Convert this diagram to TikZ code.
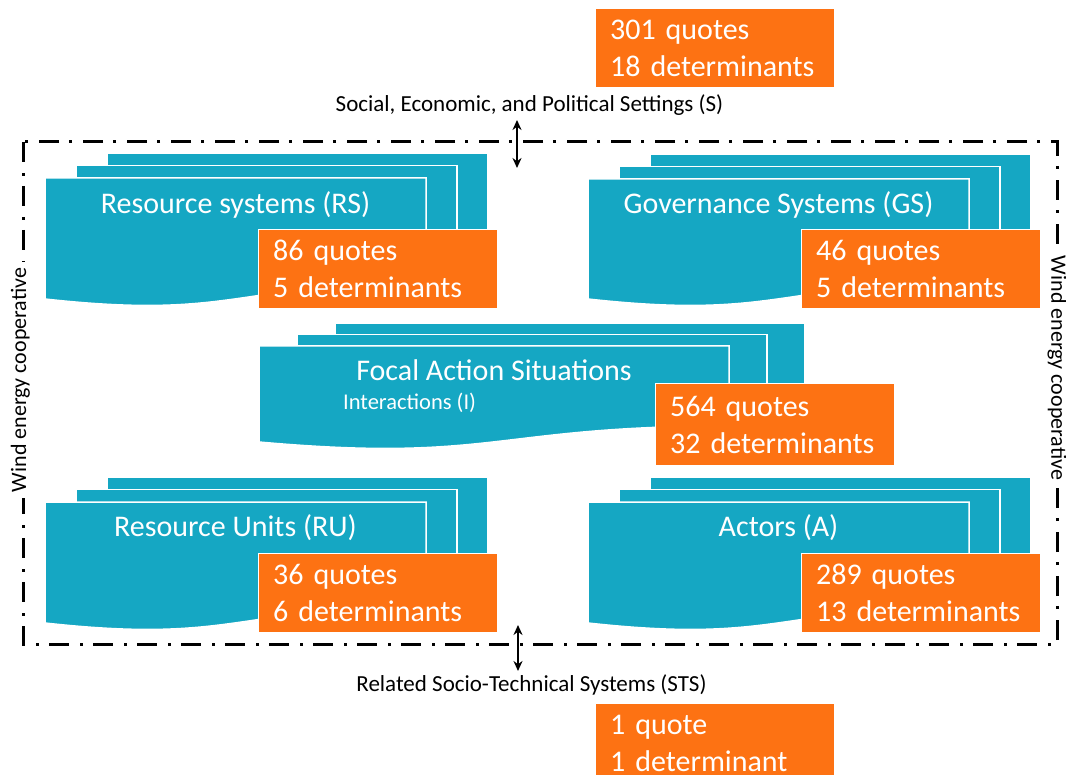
\documentclass[tikz,border=0pt]{standalone}
\usepackage{fontspec}
\setmainfont{Carlito}
\usetikzlibrary{arrows.meta}

\definecolor{sesteal}{RGB}{21,167,195}
\definecolor{sesorange}{RGB}{253,114,19}

\tikzset{
  sheet/.style={fill=sesteal, draw=white, line width=1.5pt},
  countbox/.style={fill=sesorange, draw=white, line width=1.2pt, text=white,
    font=\fontsize{30}{37}\selectfont, align=left, text width=210pt,
    inner xsep=14.5pt, inner ysep=0pt, minimum height=79pt, anchor=north west},
  sheettitle/.style={text=white, font=\fontsize{30}{36}\selectfont, inner sep=0pt},
  smalllabel/.style={text=black, font=\fontsize{23}{27}\selectfont, inner sep=0pt},
  sidelabel/.style={text=black, font=\fontsize{22}{26}\selectfont, fill=white,
    inner xsep=6pt, inner ysep=2pt},
  boundary/.style={draw=black, line width=3pt,
    dash pattern=on 20pt off 11pt on 3pt off 10pt},
  twoway/.style={{Stealth[length=10pt,width=9pt]}-{Stealth[length=10pt,width=9pt]},
    line width=2pt, draw=black},
}

% Stack of three sheets, the front one with a wavy lower edge.
% #1 left x, #2 top y, #3 width, #4 x step, #5 y step, #6 height at left edge
\newcommand\docstack[6]{%
  \filldraw[sheet] ({#1+2*#4},{#2-2*#5}) rectangle ({#1+#3+2*#4},{#2+#6-26});
  \filldraw[sheet] ({#1+#4},{#2-#5}) rectangle ({#1+#3+#4},{#2+#6-22});
  \filldraw[sheet] (#1,#2) -- ({#1+#3},#2) -- ({#1+#3},{#2+#6-16})
    .. controls ({#1+#3/2},{#2+#6-16}) and ({#1+#3/2},{#2+#6+21}) .. (#1,{#2+#6}) -- cycle;
}

\begin{document}
\begin{tikzpicture}[x=1pt,y=-1pt]
  \path[clip] (0,0) rectangle (1066,775);
  \fill[white] (0,0) rectangle (1066,775);

  % system boundary
  \draw[boundary] (23,142) rectangle (1057,644);

  % first-tier components
  \docstack{45}{178}{381}{31}{12.5}{121}
  \docstack{588}{179}{381}{31}{12.5}{120}
  \docstack{259}{346}{470}{38}{11.5}{96}
  \docstack{45}{502}{381}{31}{12.5}{121}
  \docstack{588}{502}{381}{31}{12.5}{121}

  \node[sheettitle] (rs) at (235.5,205) {Resource systems (RS)};
  \node[sheettitle] (gs) at (778.5,205) {Governance Systems (GS)};
  \node[sheettitle] (fas) at (494,370) {Focal Action Situations};
  \node[smalllabel, text=white, anchor=west, font=\fontsize{22.5}{27}\selectfont] (int) at (343,403) {Interactions (I)};
  \node[sheettitle] (ru) at (235.5,528) {Resource Units (RU)};
  \node[sheettitle] (ac) at (778.5,528) {Actors (A)};

  % counts
  \node[countbox] (sq) at (595,8) {301 quotes\\18 determinants};
  \node[countbox] (rsq) at (258,229) {86 quotes\\5 determinants};
  \node[countbox] (gsq) at (801,229) {46 quotes\\5 determinants};
  \node[countbox, minimum height=82pt] (fasq) at (655,383) {564 quotes\\32 determinants};
  \node[countbox] (ruq) at (258,553) {36 quotes\\6 determinants};
  \node[countbox] (acq) at (801,553) {289 quotes\\13 determinants};
  \node[countbox, minimum height=72pt] (stsq) at (595,703) {\rule{0pt}{28pt}1 quote\\1 determinant};

  % side labels on the boundary
  \node[sidelabel, rotate=90] (wl) at (20.5,380) {Wind energy cooperative};
  \node[sidelabel, rotate=-90] (wr) at (1057,368) {Wind energy cooperative};

  % external settings
  \node[smalllabel] (set) at (529.5,105) {Social, Economic, and Political Settings (S)};
  \node[smalllabel] (sts) at (531.5,685) {Related Socio-Technical Systems (STS)};

  \coordinate (sa) at (517,120);
  \coordinate (sb) at (517,168);
  \draw[twoway] (sa) -- (sb);
  \coordinate (ta) at (518,625);
  \coordinate (tb) at (518,671);
  \draw[twoway] (ta) -- (tb);
\end{tikzpicture}
\end{document}
